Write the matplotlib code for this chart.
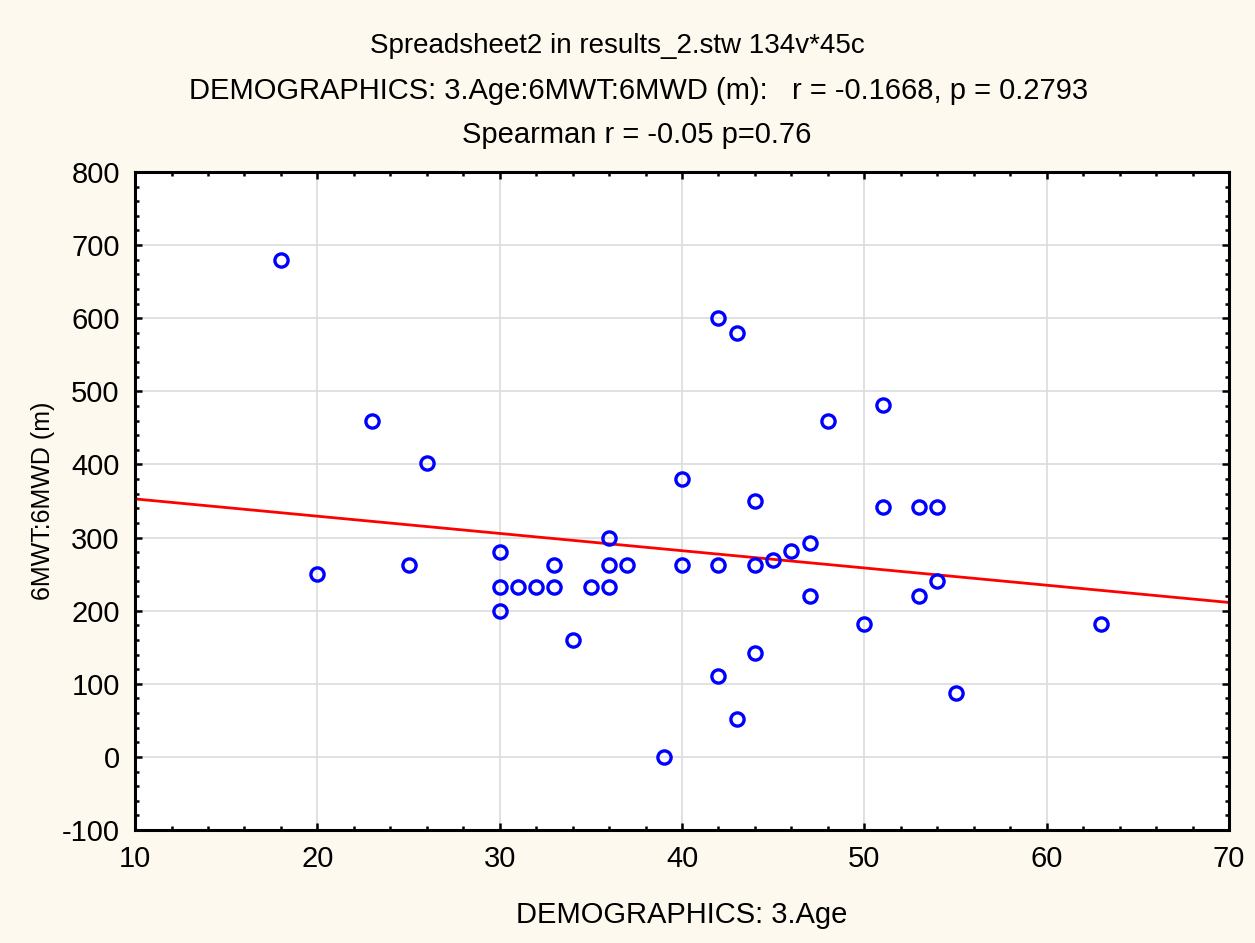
import numpy as np
import matplotlib.pyplot as plt
from matplotlib.ticker import MultipleLocator

# Age vs 6MWD values
age = [18, 20, 23, 25, 26, 30, 30, 30, 31, 32, 33, 33, 34, 35, 36, 36, 36, 37,
       39, 40, 40, 42, 42, 42, 43, 43, 44, 44, 44, 45, 46, 47, 47, 48, 50, 51,
       51, 53, 53, 54, 54, 55, 63]
dist = [680, 250, 460, 262, 402, 280, 232, 200, 232, 232, 262, 232, 160, 232,
        300, 262, 232, 262, 0, 380, 262, 600, 262, 110, 580, 52, 350, 262, 142,
        270, 282, 292, 220, 460, 182, 482, 342, 342, 220, 342, 240, 88, 182]

titles = ["Spreadsheet2 in results_2.stw 134v*45c",
          "DEMOGRAPHICS: 3.Age:6MWT:6MWD (m):   r = -0.1668, p = 0.2793",
          "Spearman r = -0.05 p=0.76"]
xlabel = "DEMOGRAPHICS: 3.Age"
ylabel = "6MWT:6MWD (m)"

plt.rcParams['font.family'] = ['Liberation Sans', 'DejaVu Sans']
plt.rcParams['axes.unicode_minus'] = False

fig = plt.figure(figsize=(12.55, 9.43), dpi=100, facecolor='#fdf9ee')
ax = fig.add_axes([0.1076, 0.1198, 0.8717, 0.6978])
ax.set_facecolor('white')

# fitted line
k, b = np.polyfit(age, dist, 1)
xs = np.array([10, 70])
ax.plot(xs, k * xs + b, color='red', lw=2, zorder=2)

ax.plot(age, dist, 'o', mfc='none', mec='blue', ms=9.5, mew=2.4, zorder=3,
        clip_on=False)

ax.set_xlim(10, 70)
ax.set_ylim(-100, 800)
ax.xaxis.set_major_locator(MultipleLocator(10))
ax.xaxis.set_minor_locator(MultipleLocator(2))
ax.yaxis.set_major_locator(MultipleLocator(100))
ax.yaxis.set_minor_locator(MultipleLocator(20))
ax.grid(True, which='major', color='#dcdcdc', lw=1.2)
ax.set_axisbelow(True)
for s in ax.spines.values():
    s.set_linewidth(2.2)
ax.tick_params(which='both', direction='in', top=True, right=True,
               labelsize=21, width=1.8, pad=11)
ax.tick_params(which='major', length=5)
ax.tick_params(which='minor', length=3)

ax.set_xlabel(xlabel, fontsize=21, labelpad=20)
ax.set_ylabel(ylabel, fontsize=18, labelpad=5)

centers = [0.492, 0.5085, 0.507]
sizes = [20, 21, 21]
ys = [0.951, 0.903, 0.857]
for t, cx, cy, fs in zip(titles, centers, ys, sizes):
    fig.text(cx, cy, t, ha='center', va='center', fontsize=fs)

fig.savefig('out.png', dpi=100, facecolor=fig.get_facecolor())
